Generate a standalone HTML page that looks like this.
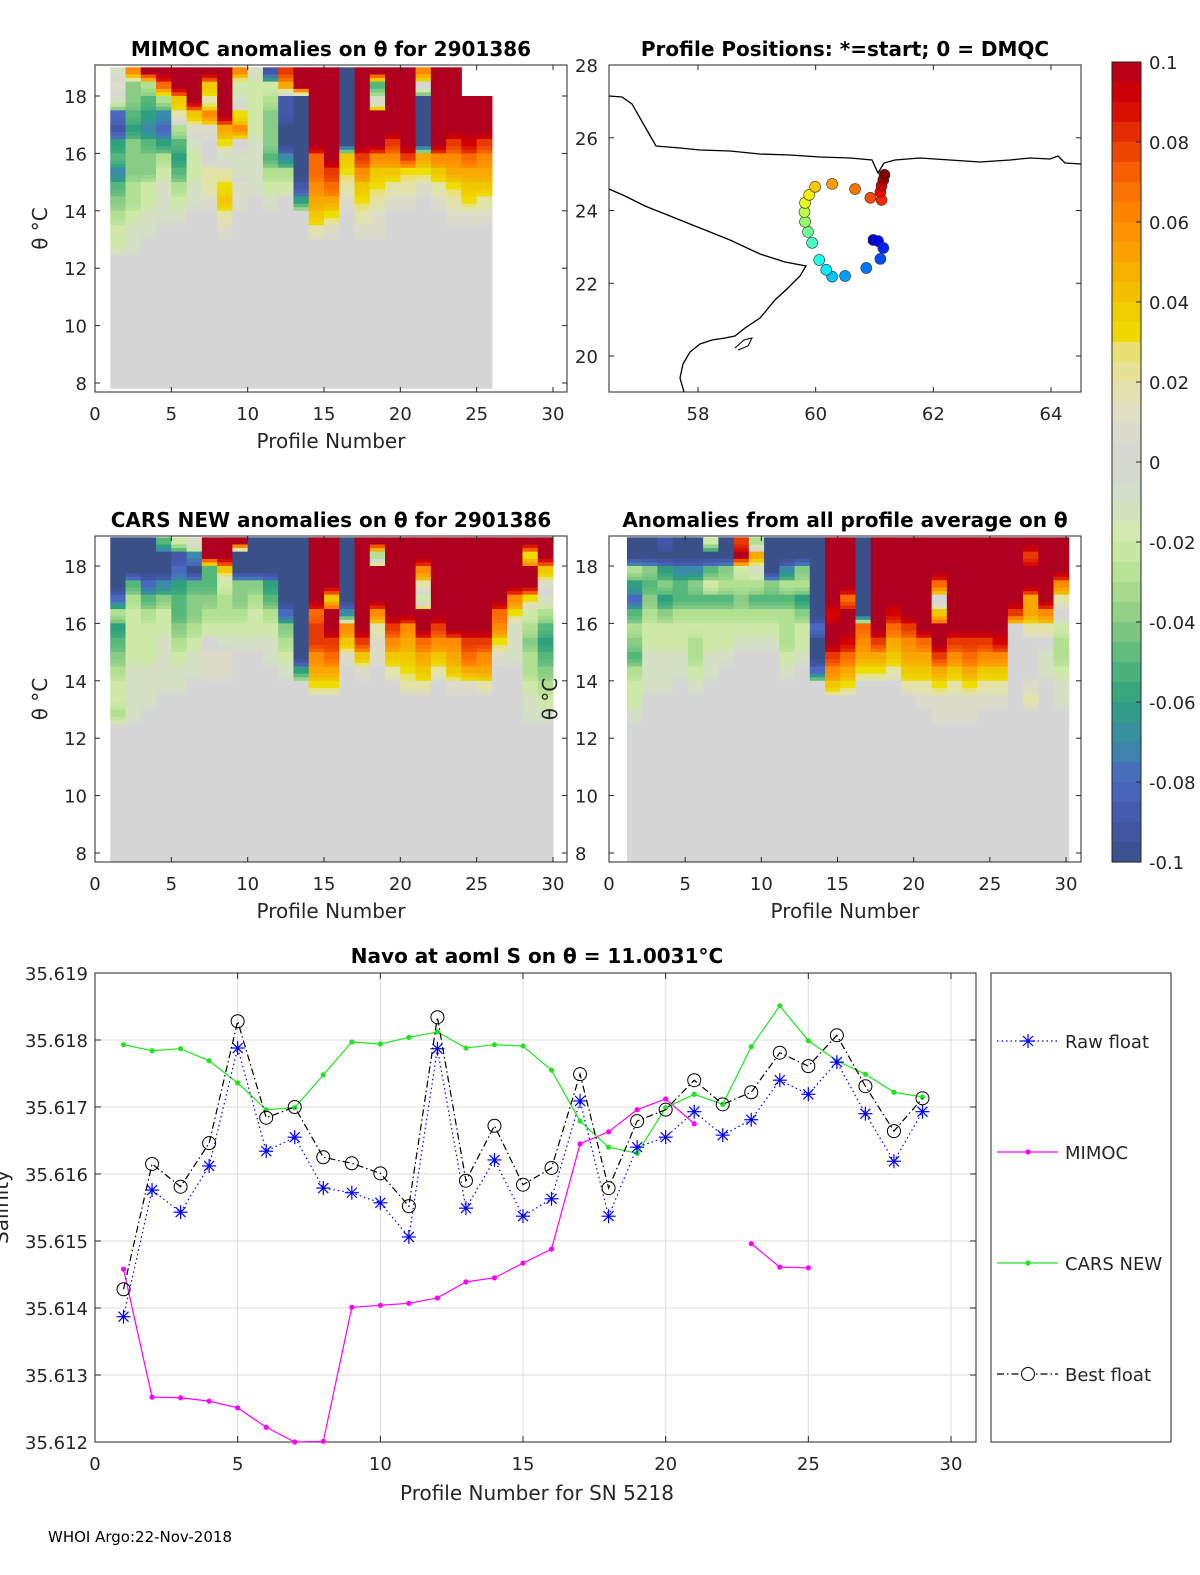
<!DOCTYPE html>
<html><head><meta charset="utf-8"><style>
html,body{margin:0;padding:0;background:#fff;}
svg{display:block;font-family:"DejaVu Sans","Liberation Sans",sans-serif;}
.tk{font-size:18px;fill:#262626;}
.tt{font-size:20px;font-weight:bold;fill:#000;}
.lb{font-size:20px;fill:#262626;}
</style></head><body>
<svg id="fig" width="1200" height="1575" viewBox="0 0 1200 1575" xmlns="http://www.w3.org/2000/svg"></svg>
<script>
// ---------- Data ----------
const rowThetaTop = [19,18.5,18,17.5,17,16.5,16,15.5,15,14.5,14,13.5,13];
const mimoc = [
[-1,1,-1,-8,-9,-6,-5,-7,-5,-4,-3,-2,-2],
[6,-4,-4,-5,-6,-4,-4,-4,-3,-3,-2,-1,-1],
[10,-3,-5,-6,-7,-5,-4,-4,-2,-2,-1,-1,0],
[10,7,-3,-7,-8,-6,-3,-2,-1,-1,-1,0,0],
[10,10,4,2,-3,-5,-6,-5,-3,-2,-1,0,0],
[10,10,10,4,1,-1,-2,-2,-1,-1,0,0,0],
[10,4,2,6,1,0,0,2,2,1,0,0,0],
[10,10,10,10,5,3,-1,2,3,4,2,1,0],
[6,-2,-1,3,6,0,-1,-1,1,1,0,0,0],
[-1,-2,-2,-2,-2,-1,-1,-1,-1,0,0,0,0],
[-9,-2,-3,-4,-4,-4,-5,-3,-2,-1,0,0,0],
[8,5,-9,-9,-10,-10,-7,-3,-2,0,0,0,0],
[10,10,-10,-10,-10,-10,-10,-10,-9,-6,0,0,0],
[10,10,10,10,10,10,7,7,6,5,4,2,0],
[10,10,10,10,10,10,10,8,7,5,3,1,0],
[-10,-10,-10,-10,-10,-10,4,3,2,1,0,0,0],
[10,10,10,10,10,10,8,6,4,3,2,1,0],
[10,-5,-1,10,10,10,6,4,3,2,1,1,0],
[10,10,10,10,10,8,6,4,2,1,0,0,0],
[10,10,10,10,10,10,8,3,2,1,0,0,0],
[6,0,-10,-10,-10,-10,5,3,1,0,0,0,0],
[10,10,10,10,10,10,6,4,2,1,0,0,0],
[10,10,10,10,10,8,6,5,3,2,1,0,0],
[null,null,10,10,10,9,7,5,4,3,1,0,0],
[null,null,10,10,10,8,6,5,4,2,1,0,0]];
const cars = [
[-10,-10,-10,-10,-8,-3,-6,-5,-4,-3,-2,-2,-3],
[-10,-10,-10,-5,-3,-2,-2,-2,-2,-1,-1,-1,-1],
[-10,-10,-10,-8,-5,-3,-2,-2,-2,-1,-1,-1,0],
[-5,-10,-10,-7,-4,-2,-2,-1,-1,-1,-1,0,0],
[-2,-9,-8,-6,-5,-5,-4,-3,-2,-1,-1,0,0],
[1,-7,-10,-5,-4,-4,-3,-2,-1,-1,0,0,0],
[10,10,-5,-5,-4,-3,-2,0,1,1,0,0,0],
[10,10,4,-2,-3,-3,-2,-1,1,1,0,0,0],
[10,-10,-10,-4,-4,-3,-2,-1,0,0,0,0,0],
[-10,-10,-10,-4,-3,-2,-2,-1,0,0,0,0,0],
[-10,-10,-10,-6,-5,-3,-2,-1,-1,0,0,0,0],
[-10,-10,-10,-10,-10,-8,-4,-3,-2,-1,0,0,0],
[-10,-10,-10,-10,-10,-10,-10,-10,-10,-6,0,0,0],
[10,10,10,10,10,7,8,8,6,5,3,0,0],
[10,10,10,10,4,10,10,8,7,5,3,0,0],
[-10,-10,-10,-10,-10,-7,6,4,1,0,0,0,0],
[10,10,10,10,10,10,10,8,4,1,0,0,0],
[10,-3,10,10,10,6,2,1,1,0,0,0,0],
[10,10,10,10,10,10,8,6,4,2,0,0,0],
[10,10,10,10,10,10,6,5,4,3,2,0,0],
[10,10,6,2,-2,10,10,7,5,4,2,0,0],
[10,10,10,10,10,10,8,6,4,2,0,0,0],
[10,10,10,10,10,10,10,6,5,4,1,0,0],
[10,10,10,10,10,10,10,8,7,5,1,0,0],
[10,10,10,10,10,10,10,8,6,5,2,0,0],
[10,10,10,10,10,7,6,3,1,0,0,0,0],
[10,10,10,10,6,3,-1,-1,-1,0,0,0,0],
[10,3,10,10,3,-2,-3,-4,-3,-3,-2,-1,-1],
[10,10,4,1,-1,-3,-5,-6,-5,-4,-3,-2,-1]];
const avgAnom = [
[-10,-10,-3,-6,-8,-5,-3,-4,-5,-3,-2,-2,-1],
[-10,-10,-4,-5,-4,-3,-2,-2,-1,-1,-1,0,0],
[-9,-10,-6,-4,-6,-4,-2,-2,-1,-1,-1,0,0],
[-10,-10,-7,-5,-5,-3,-2,-2,-1,-1,0,0,0],
[-10,-10,-7,-4,-5,-3,-2,-3,-3,-2,-1,0,0],
[-2,-10,-5,-2,-5,-3,-2,-2,-1,-1,0,0,0],
[-10,-10,-4,-3,-5,-3,-2,-2,-1,0,0,0,0],
[8,10,-2,-3,-4,-3,-2,-1,0,0,0,0,0],
[-3,5,-1,-3,-5,-3,-2,-1,0,0,0,0,0],
[-10,-10,-10,-4,-5,-3,-2,-1,0,0,0,0,0],
[-10,-10,-7,-3,-5,-3,-3,-3,-2,-1,0,0,0],
[-10,-10,-4,-3,-6,-4,-2,-2,-1,0,0,0,0],
[-10,-10,-10,-10,-10,-10,-8,-10,-10,-8,0,0,0],
[10,10,10,10,10,9,10,10,8,6,4,0,0],
[10,10,10,10,7,10,10,9,7,5,3,0,0],
[-10,-10,-10,-10,-10,-10,7,6,5,3,0,0,0],
[10,10,10,10,10,10,10,8,5,3,0,0,0],
[10,10,10,10,10,9,7,5,4,2,0,0,0],
[10,10,10,10,10,10,8,6,5,4,2,0,0],
[10,10,10,10,10,10,10,7,5,4,2,1,0],
[10,10,10,7,0,4,10,10,8,5,3,1,1],
[10,10,10,10,10,10,10,8,6,4,2,1,1],
[10,10,10,10,10,10,10,8,7,5,3,1,1],
[10,10,10,10,10,10,10,8,6,4,2,1,0],
[10,10,10,10,10,10,10,9,6,4,2,1,0],
[10,10,10,10,10,8,0,0,0,0,0,0,0],
[10,8,10,10,5,5,2,0,0,0,1,2,0],
[10,10,10,10,10,6,2,0,-1,-1,0,0,0],
[10,10,10,6,2,0,-2,-3,-3,-2,-1,-1,0]];
const trackLon = [60.84,60.98,61.06,61.15,61.10,60.86,60.50,60.28,60.18,60.06,59.94,59.87,59.82,59.81,59.82,59.89,59.99,60.28,60.67,60.93,61.12,61.10,61.12,61.15,61.17];
const trackLat = [23.19,23.19,23.16,22.97,22.67,22.42,22.20,22.18,22.37,22.64,23.11,23.41,23.69,23.96,24.21,24.43,24.65,24.73,24.59,24.35,24.29,24.51,24.68,24.84,24.98];
const profiles = [1,2,3,4,5,6,7,8,9,10,11,12,13,14,15,16,17,18,19,20,21,22,23,24,25,26,27,28,29];
const rawFloat = [35.61387,35.61576,35.61543,35.61612,35.61788,35.61634,35.61655,35.61579,35.61572,35.61557,35.61506,35.61787,35.61549,35.61621,35.61537,35.61563,35.61709,35.61537,35.61640,35.61655,35.61693,35.61658,35.61681,35.61740,35.61719,35.61767,35.61690,35.61619,35.61693];
const bestFloat = [35.61428,35.61615,35.61581,35.61646,35.61828,35.61684,35.61700,35.61625,35.61616,35.61601,35.61552,35.61834,35.61590,35.61672,35.61584,35.61609,35.61749,35.61579,35.61679,35.61696,35.61740,35.61704,35.61722,35.61781,35.61761,35.61807,35.61731,35.61664,35.61713];
const carsNew = [35.61793,35.61784,35.61787,35.61769,35.61736,35.61696,35.61699,35.61748,35.61797,35.61794,35.61804,35.61812,35.61788,35.61793,35.61791,35.61755,35.61679,35.61640,35.61631,35.61699,35.61719,35.61704,35.61790,35.61851,35.61799,35.61769,35.61749,35.61722,35.61715];
const mimocS = [35.61458,35.61267,35.61266,35.61261,35.61251,35.61222,35.61200,35.61201,35.61401,35.61404,35.61407,35.61415,35.61439,35.61445,35.61467,35.61488,35.61645,35.61663,35.61696,35.61712,35.61675,null,35.61496,35.61461,35.61460,null,null,null,null];
const yTicksS = ["35.612","35.613","35.614","35.615","35.616","35.617","35.618","35.619"];
const xTicksP = [0,5,10,15,20,25,30];
const thetaTicks = [8,10,12,14,16,18];
const cbTicks = ["-0.1","-0.08","-0.06","-0.04","-0.02","0","0.02","0.04","0.06","0.08","0.1"];

// ---------- helpers ----------
const NS="http://www.w3.org/2000/svg";
const svg=document.getElementById('fig');
function el(tag,attrs,parent){const e=document.createElementNS(NS,tag);for(const k in attrs)e.setAttribute(k,attrs[k]);(parent||svg).appendChild(e);return e;}
function txt(s,x,y,cls,anchor,parent){const t=el('text',{x:x,y:y,class:cls,'text-anchor':anchor||'middle'},parent);t.textContent=s;return t;}
const stops=[[-10,[58,80,136]],[-9,[67,88,168]],[-8,[74,104,192]],[-7,[58,138,168]],[-6,[47,160,126]],[-5,[85,184,122]],[-4,[136,204,133]],[-3,[176,224,144]],[-2,[207,234,168]],[-1,[213,224,196]],[0,[214,214,214]],[1,[220,220,200]],[2,[227,227,168]],[2.8,[233,224,112]],[3,[238,221,0]],[4,[240,200,0]],[5,[248,168,0]],[6,[255,140,0]],[7,[250,106,0]],[8,[232,58,0]],[9,[212,0,0]],[10,[176,0,32]]];
function cmap(v){v=Math.max(-10,Math.min(10,v));for(let i=1;i<stops.length;i++){if(v<=stops[i][0]){const a=stops[i-1],b=stops[i];const t=(v-a[0])/(b[0]-a[0]);const c=a[1].map((x,j)=>Math.round(x+(b[1][j]-x)*t));return 'rgb('+c.join(',')+')';}}return 'rgb(176,0,32)';}
function jet(t){const r=Math.max(0,Math.min(1,1.5-Math.abs(4*t-3))),g=Math.max(0,Math.min(1,1.5-Math.abs(4*t-2))),b=Math.max(0,Math.min(1,1.5-Math.abs(4*t-1)));return 'rgb('+[r,g,b].map(x=>Math.round(x*255)).join(',')+')';}

// ---------- heatmap panels ----------
function heatPanel(name,data,box,off,bottomTheta,title,ylabX,tickSide){
  const g=el('g',{});
  
  
  const xs=p=>box.x0+(p)*(box.x30-box.x0)/30;
  const ys=t=>box.y8-(t-8)*(box.y8-box.y18)/10;
  const clip=el('clipPath',{id:'c'+name},g);el('rect',{x:box.l,y:box.t,width:box.r-box.l,height:box.b-box.t},clip);
  const cg=el('g',{'clip-path':'url(#c'+name+')'},g);
  const SUB=4;
  data.forEach((col,i)=>{
    const x1=xs(i+1+off),x2=xs(i+2+off);
    const gr=el('rect',{x:x1,y:ys(12.5),width:x2-x1+0.5,height:ys(bottomTheta)-ys(12.5),fill:cmap(0)},cg);
    
    
    col.forEach((v,r)=>{
      if(v===null)return;
      const nx=(r+1<col.length)?col[r+1]:0;
      for(let s=0;s<SUB;s++){
        const f=s/SUB;
        const vv=(r===0&&s<2)?v:v+(nx-v)*Math.max(0,f-0.25)*0.8;
        const tt=rowThetaTop[r]-0.5*f;
        const c=el('rect',{x:x1,y:ys(tt),width:x2-x1+0.5,height:ys(tt-0.5/SUB)-ys(tt)+0.5,fill:cmap(vv)},cg);
        
        
      }
    });
  });
  el('rect',{x:box.l,y:box.t,width:box.r-box.l,height:box.b-box.t,fill:'none',stroke:'#262626','stroke-width':1},g);
  xTicksP.forEach(p=>{const x=xs(p);el('line',{x1:x,y1:box.b,x2:x,y2:box.b-5,stroke:'#262626'},g);el('line',{x1:x,y1:box.t,x2:x,y2:box.t+5,stroke:'#262626'},g);txt(String(p),x,box.b+28,'tk','middle',g);});
  thetaTicks.forEach(t=>{const y=ys(t);el('line',{x1:box.l,y1:y,x2:box.l+5,y2:y,stroke:'#262626'},g);el('line',{x1:box.r,y1:y,x2:box.r-5,y2:y,stroke:'#262626'},g);
    if(tickSide==='left')txt(String(t),box.l-8,y+7,'tk','end',g);else txt(String(t),box.l-34,y+7,'tk','start',g);});
  const yl=txt('θ °C',ylabX,(box.t+box.b)/2,'lb','middle',g);yl.setAttribute('transform','rotate(-90 '+ylabX+' '+((box.t+box.b)/2)+')');
  txt('Profile Number',(box.l+box.r)/2,box.b+56,'lb','middle',g);
  txt(title,(box.l+box.r)/2,box.t-9,'tt','middle',g);
}
heatPanel('mimoc-heatmap',mimoc,{l:95,r:567,t:65,b:392,x0:95,x30:553,y8:383,y18:96},0,7.8,'MIMOC anomalies on θ  for 2901386',47,'left');
heatPanel('cars-heatmap',cars,{l:95,r:567,t:536,b:862,x0:95,x30:553,y8:853,y18:566},0,7.6,'CARS NEW anomalies on θ for 2901386',47,'left');
heatPanel('avg-anomaly-heatmap',avgAnom,{l:609,r:1081,t:536,b:862,x0:609,x30:1066,y8:853,y18:566},0.18,7.6,'Anomalies from all profile average on θ',557,'right');

// ---------- map ----------
(function(){
  const g=el('g',{});
  
  
  const L=609,R=1081,T=65,B=392;
  const xl=lon=>698+(lon-58)*(1051-698)/6;
  const yl=lat=>65+(28-lat)*(356-65)/8;
  el('rect',{x:L,y:T,width:R-L,height:B-T,fill:'#fff',stroke:'#262626'},g);
  const cp=el('clipPath',{id:'mapclip'},g);el('rect',{x:L,y:T,width:R-L,height:B-T},cp);
  const cg=el('g',{'clip-path':'url(#mapclip)'},g);
  const c1=el('polyline',{points:'609,96 622,97 632,104 640,118 648,132 656,146 680,148 700,150 730,151 760,154 790,155 820,157 850,158 872,160 878,173 884,163 895,160 920,158 950,160 980,162 1010,160 1030,158 1050,159 1058,156 1065,163 1081,164',fill:'none',stroke:'#000','stroke-width':1.3},cg);
  
  
  const c2=el('polyline',{points:'609,189 625,196 645,206 670,216 700,228 730,240 760,254 785,262 806,266 800,276 788,288 775,300 760,318 745,328 735,336 725,338 712,340 700,344 690,352 683,364 680,378 684,392',fill:'none',stroke:'#000','stroke-width':1.3},cg);
  
  
  el('polyline',{points:'735,348 744,340 752,338 748,346 738,350',fill:'none',stroke:'#000','stroke-width':1},cg);
  const n=trackLon.length;
  for(let i=1;i<n;i++){
    const m=el('circle',{cx:xl(trackLon[i]),cy:yl(trackLat[i]),r:5.5,fill:jet(0.08+0.92*(i-1)/(n-2)),stroke:'#333','stroke-width':0.6},cg);
    
    
  }
  const sx=xl(trackLon[0])-3,sy=yl(trackLat[0]);
  const st=el('g',{},cg);
  
  
  [[0,6],[6,0],[4.2,4.2],[4.2,-4.2]].forEach(d=>el('line',{x1:sx-d[0],y1:sy-d[1],x2:sx+d[0],y2:sy+d[1],stroke:'#fff','stroke-width':1.5},st));
  [58,60,62,64].forEach(v=>{const x=xl(v);el('line',{x1:x,y1:B,x2:x,y2:B-5,stroke:'#262626'},g);el('line',{x1:x,y1:T,x2:x,y2:T+5,stroke:'#262626'},g);txt(String(v),x,B+28,'tk','middle',g);});
  [20,22,24,26,28].forEach(v=>{const y=yl(v);el('line',{x1:L,y1:y,x2:L+5,y2:y,stroke:'#262626'},g);el('line',{x1:R,y1:y,x2:R-5,y2:y,stroke:'#262626'},g);txt(String(v),575,y+7,'tk','start',g);});
  txt('Profile Positions: *=start; 0 = DMQC',845,56,'tt','middle',g);
})();

// ---------- colorbar ----------
(function(){
  const g=el('g',{});
  
  
  const x=1112,w=29,t=62,b=862,n=40;
  for(let i=0;i<n;i++){const v=10-20*(i+0.5)/n;el('rect',{x:x,y:t+(b-t)*i/n,width:w,height:(b-t)/n+0.6,fill:cmap(v)},g);}
  el('rect',{x:x,y:t,width:w,height:b-t,fill:'none',stroke:'#262626'},g);
  cbTicks.forEach((s,i)=>{const y=b-(b-t)*i/(cbTicks.length-1);el('line',{x1:x+w,y1:y,x2:x+w-5,y2:y,stroke:'#262626'},g);txt(s,1149,y+7,'tk','start',g);});
})();

// ---------- salinity line chart ----------
(function(){
  const g=el('g',{});
  
  
  const L=95,R=976,T=973,B=1442;
  const xs=p=>95+p*(951-95)/30;
  const ys=s=>B-(s-35.612)*(B-T)/0.007;
  el('rect',{x:L,y:T,width:R-L,height:B-T,fill:'#fff'},g);
  xTicksP.forEach(p=>{const x=xs(p);el('line',{x1:x,y1:T,x2:x,y2:B,stroke:'#dcdcdc'},g);});
  yTicksS.forEach(s=>{const y=ys(parseFloat(s));el('line',{x1:L,y1:y,x2:R,y2:y,stroke:'#dcdcdc'},g);});
  el('rect',{x:L,y:T,width:R-L,height:B-T,fill:'none',stroke:'#262626'},g);
  xTicksP.forEach(p=>{const x=xs(p);el('line',{x1:x,y1:B,x2:x,y2:B-6,stroke:'#262626'},g);el('line',{x1:x,y1:T,x2:x,y2:T+6,stroke:'#262626'},g);txt(String(p),x,B+28,'tk','middle',g);});
  yTicksS.forEach(s=>{const y=ys(parseFloat(s));el('line',{x1:L,y1:y,x2:L+6,y2:y,stroke:'#262626'},g);el('line',{x1:R,y1:y,x2:R-6,y2:y,stroke:'#262626'},g);txt(s,88,y+7,'tk','end',g);});
  function series(name,vals,color,dash,marker){
    const sg=el('g',{},g);
    
    
    let segs=[],cur=[];
    vals.forEach((v,i)=>{if(v===null){if(cur.length)segs.push(cur);cur=[];}else cur.push(xs(profiles[i])+','+ys(v));});
    if(cur.length)segs.push(cur);
    segs.forEach(s=>{const a={points:s.join(' '),fill:'none',stroke:color,'stroke-width':1.2};if(dash)a['stroke-dasharray']=dash;el('polyline',a,sg);});
    vals.forEach((v,i)=>{if(v===null)return;const x=xs(profiles[i]),y=ys(v);
      if(marker==='dot'){const m=el('circle',{cx:x,cy:y,r:2.6,fill:color},sg);}
      else if(marker==='circle'){const m=el('circle',{cx:x,cy:y,r:6.5,fill:'none',stroke:color,'stroke-width':1},sg);}
      else {const m=el('g',{},sg);[[0,7],[7,0],[5,5],[5,-5]].forEach(d=>el('line',{x1:x-d[0],y1:y-d[1],x2:x+d[0],y2:y+d[1],stroke:color,'stroke-width':1.2},m));}
    });
  }
  series('mimoc-line',mimocS,'#ff00ff',null,'dot');
  series('cars-new-line',carsNew,'#1ee61e',null,'dot');
  series('raw-float-line',rawFloat,'#0000ff','1.5,3','star');
  series('best-float-line',bestFloat,'#000000','7,3,1.5,3','circle');
  txt('Navo at aoml S on θ = 11.0031°C',537,963,'tt','middle',g);
  txt('Profile Number for SN 5218',537,1500,'lb','middle',g);
  const yl=txt('Salinity',8,1207,'lb','middle',g);yl.setAttribute('transform','rotate(-90 8 1207)');
  const lg=el('g',{});
  
  
  el('rect',{x:991,y:973,width:180,height:469,fill:'#fff',stroke:'#262626'},lg);
  const ents=[['Raw float','#0000ff','1.5,3','star',1041],['MIMOC','#ff00ff',null,'dot',1152],['CARS NEW','#1ee61e',null,'dot',1263],['Best float','#000','7,3,1.5,3','circle',1374]];
  ents.forEach(e=>{const eg=el('g',{},lg);
    
    
    const a={x1:997,y1:e[4],x2:1058,y2:e[4],stroke:e[1],'stroke-width':1.2};if(e[2])a['stroke-dasharray']=e[2];el('line',a,eg);
    const x=1028,y=e[4];
    if(e[3]==='dot')el('circle',{cx:x,cy:y,r:2.6,fill:e[1]},eg);
    else if(e[3]==='circle')el('circle',{cx:x,cy:y,r:6.5,fill:'#fff',stroke:e[1]},eg);
    else [[0,7],[7,0],[5,5],[5,-5]].forEach(d=>el('line',{x1:x-d[0],y1:y-d[1],x2:x+d[0],y2:y+d[1],stroke:e[1],'stroke-width':1.2},eg));
    txt(e[0],1065,y+7,'tk','start',eg);});
})();
const ft=txt('WHOI Argo:22-Nov-2018',48,1542,'tk','start');
ft.setAttribute('style','font-size:15px;fill:#000');


</script>
</body></html>
